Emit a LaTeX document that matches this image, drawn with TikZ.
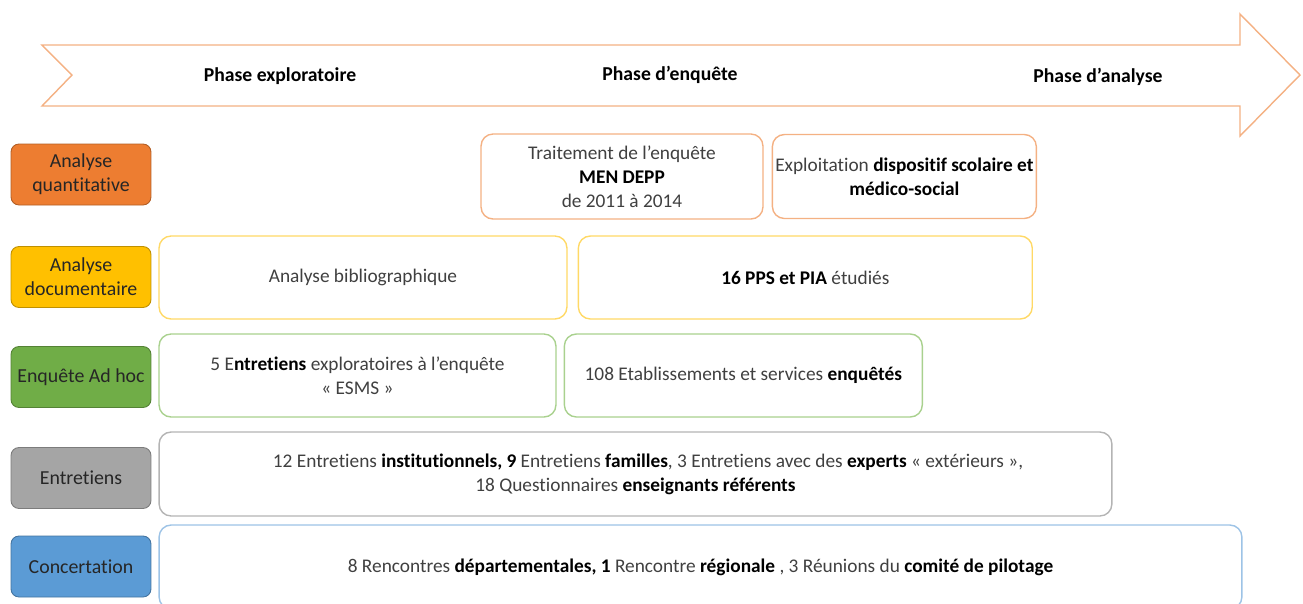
\documentclass[tikz,border=0pt]{standalone}
\usepackage{fontspec}
\setmainfont{Carlito}[Ligatures=NoCommon]
\usetikzlibrary{positioning}
\definecolor{phaseOrange}{HTML}{F4B183}
\definecolor{quantOrange}{HTML}{ED7D31}
\definecolor{docYellow}{HTML}{FFC000}
\definecolor{adhocGreen}{HTML}{70AD47}
\definecolor{entrGray}{HTML}{A5A5A5}
\definecolor{concBlue}{HTML}{5B9BD5}
\definecolor{lineYellow}{HTML}{FFD966}
\definecolor{lineGreen}{HTML}{A9D18E}
\definecolor{lineGray}{HTML}{B4B4B4}
\definecolor{lineBlue}{HTML}{9DC3E6}
\definecolor{textDark}{HTML}{262626}
\definecolor{textGray}{HTML}{404040}
\tikzset{
    basefont/.style={font=\fontsize{11}{13.6}\selectfont},
    catbox/.style={rectangle, rounded corners=1.6mm, font=\fontsize{11.3}{13.6}\selectfont, align=center, text=textDark, draw=#1!75!black, fill=#1, line width=0.5pt, minimum width=2.8cm, minimum height=1.22cm, inner sep=0pt},
    cellbox/.style={rectangle, rounded corners=2.4mm, basefont, align=center, text=textGray, draw=#1, fill=white, line width=0.8pt, minimum height=1.66cm, inner sep=0pt},
    phase/.style={font=\fontsize{11.2}{13}\selectfont\bfseries, text=black},
    phasearrow/.style={draw=phaseOrange, line width=0.8pt, fill=white}
}
\begin{document}
\begin{tikzpicture}[x=0.02cm, y=-0.02cm]
    \useasboundingbox (0,0) rectangle (1303,603);

    % Timeline arrow
    \draw [phasearrow] (42,45) -- (1240,45) -- (1240,14) -- (1300,75) -- (1240,136) -- (1240,106) -- (42,106) -- (72,75) -- cycle;

    \node (explor) [phase] at (280,76) {Phase exploratoire};
    \node (enq) [phase] at (670,75) {Phase d’enquête};
    \node (analyse) [phase] at (1098,77) {Phase d’analyse};

    % Categories
    \node (quanti) [catbox=quantOrange] at (81,174.5) {Analyse\\quantitative};
    \node (docu) [catbox=docYellow] at (81,277) {Analyse\\documentaire};
    \node (adhoc) [catbox=adhocGreen] at (81,377) {Enquête Ad hoc};
    \node (entr) [catbox=entrGray] at (81,478) {Entretiens};
    \node (concert) [catbox=concBlue] at (81,566.5) {Concertation};

    % Row 1
    \node (traitement) [cellbox=phaseOrange, minimum width=5.64cm, minimum height=1.7cm] at (622,176.5) {Traitement de l’enquête\\\textbf{\color{black}MEN DEPP}\\de 2011 à 2014};
    \node (exploit) [cellbox=phaseOrange, minimum width=5.28cm, minimum height=1.68cm, right=0.16cm of traitement] {Exploitation \textbf{\color{black}dispositif scolaire et}\\\textbf{\color{black}médico-social}};

    % Row 2
    \node (biblio) [cellbox=lineYellow, minimum width=8.16cm] at (363,277.5) {Analyse bibliographique};
    \node (pps) [cellbox=lineYellow, minimum width=9.08cm, right=0.2cm of biblio] {\textbf{\color{black}16 PPS et PIA} étudiés};

    % Row 3
    \node (explo) [cellbox=lineGreen, minimum width=7.94cm] at (357.5,375.5) {5 E\textbf{\color{black}ntretiens} exploratoires à l’enquête\\« ESMS »};
    \node (etab) [cellbox=lineGreen, minimum width=7.16cm, right=0.14cm of explo] {108 Etablissements et services \textbf{\color{black}enquêtés}};

    % Row 4
    \node (entretiens) [cellbox=lineGray, minimum width=19.06cm, minimum height=1.68cm] at (635.5,474) {\hspace*{0.5cm}12 Entretiens \textbf{\color{black}institutionnels, 9} Entretiens \textbf{\color{black}familles}, 3 Entretiens avec des \textbf{\color{black}experts} « extérieurs »,\\18 Questionnaires \textbf{\color{black}enseignants référents}};

    % Row 5
    \node (rencontres) [cellbox=lineBlue, minimum width=21.66cm, minimum height=1.68cm] at (700.5,567) {8 Rencontres \textbf{\color{black}départementales, 1} Rencontre \textbf{\color{black}régionale} , 3 Réunions du \textbf{\color{black}comité de pilotage}};

\end{tikzpicture}
\end{document}
